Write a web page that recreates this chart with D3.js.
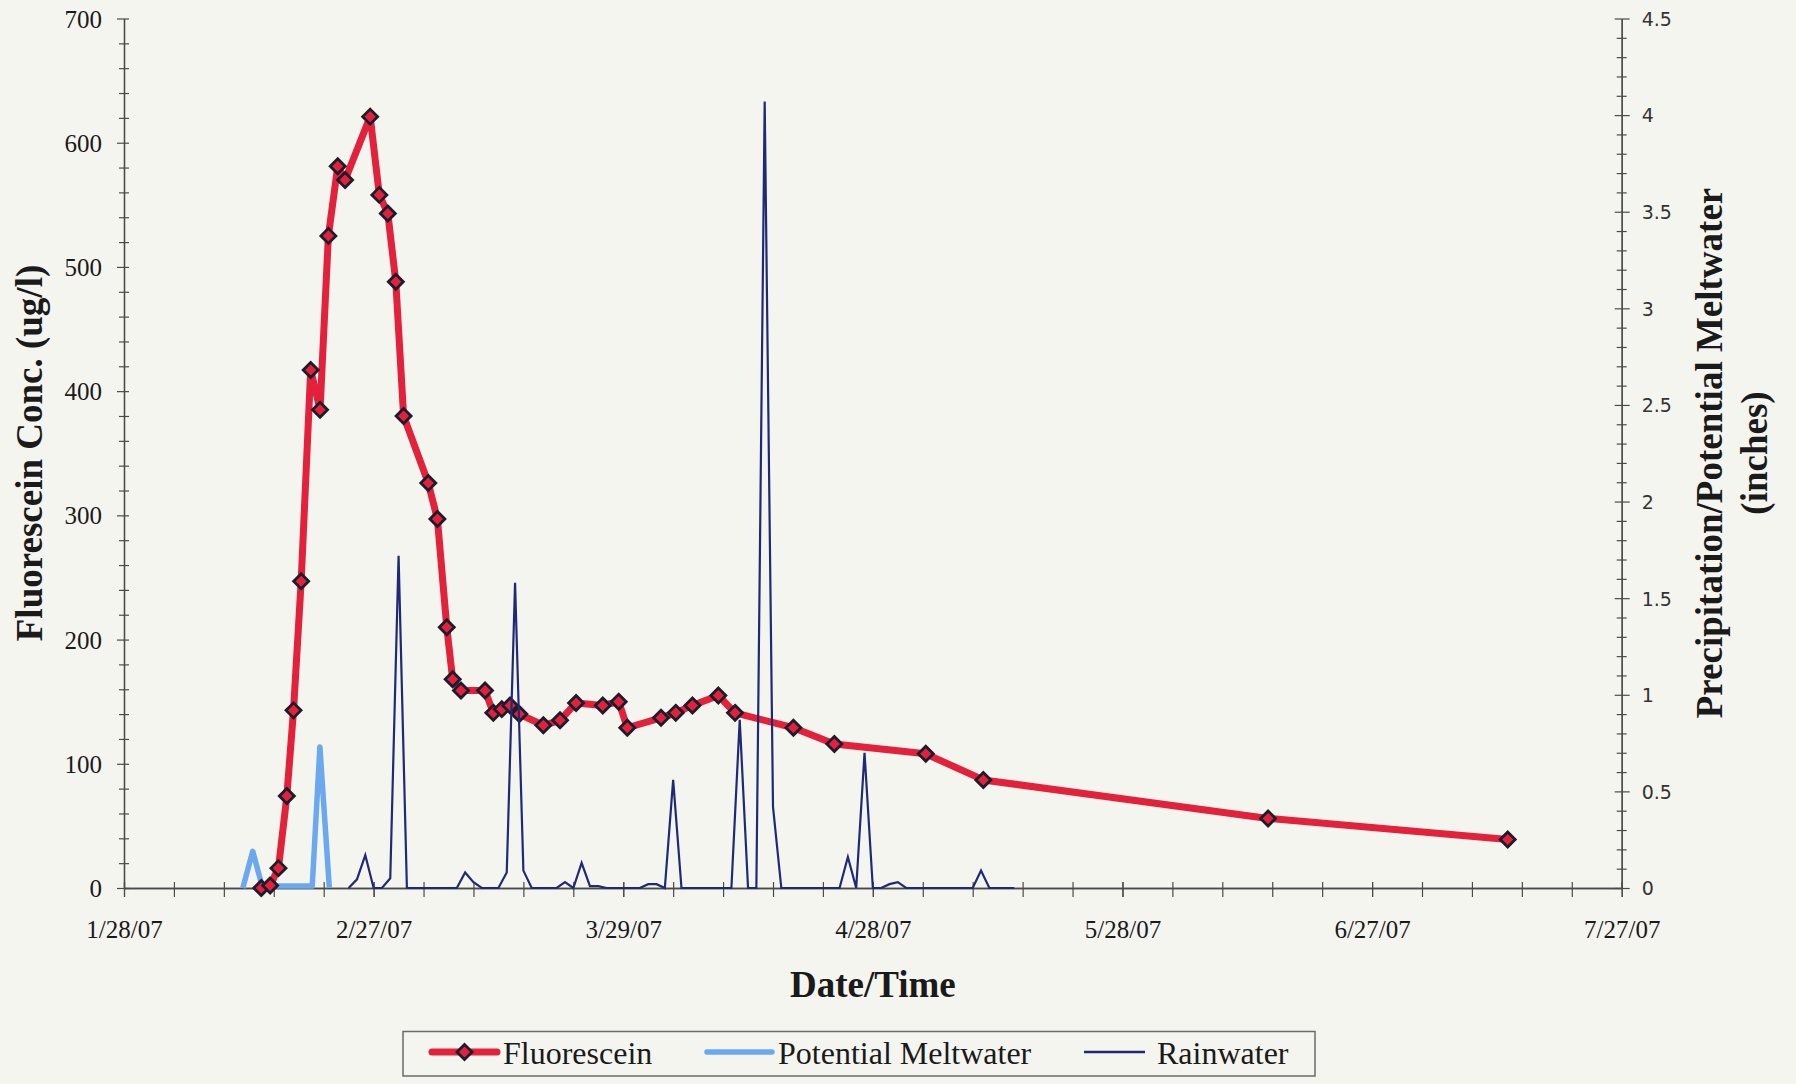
<!DOCTYPE html>
<html><head><meta charset="utf-8">
<script src="https://cdn.jsdelivr.net/npm/d3@7"></script>
<style>html,body{margin:0;padding:0;background:#F5F5F0;} svg{display:block;}</style>
</head><body>
<svg id="chart" width="1796" height="1084"></svg>
<script>
// ---------- data ----------
const fluorDates = ["2/13/07 12:00","2/14/07 13:30","2/15/07 13:30","2/16/07 13:40","2/17/07 09:00","2/18/07 07:00","2/19/07 10:30","2/20/07 13:30","2/21/07 13:30","2/22/07 16:30","2/23/07 13:40","2/26/07 14:00","2/27/07 16:30","2/28/07 17:00","3/1/07 16:00","3/2/07 14:30","3/5/07 13:40","3/6/07 16:00","3/7/07 19:00","3/8/07 12:00","3/9/07 12:00","3/12/07 09:20","3/13/07 09:20","3/14/07 09:40","3/15/07 09:40","3/16/07 12:15","3/19/07 09:40","3/21/07 09:40","3/23/07 08:00","3/26/07 13:00","3/28/07 11:00","3/29/07 11:45","4/2/07 13:00","4/4/07 07:30","4/6/07 07:40","4/9/07 10:20","4/11/07 10:30","4/18/07 10:50","4/23/07 09:00","5/4/07 08:40","5/11/07 06:40","6/14/07 12:00","7/13/07 07:10"];
const fluorValues = [0,2,16,74,143,247,417,385,525,581,570,621,558,543,488,380,326,297,210,168,159,159,141,144,147,140,131,135,149,147,150,129,137,141,147,155,141,129,116,108,87,56,39];

const meltDates = ["2/11/07 06:40","2/12/07 11:20","2/13/07 14:20","2/19/07 15:00","2/20/07 13:00","2/21/07 16:20"];
const meltValues = [0,0.19,0.01,0.01,0.73,0];

const rainDates = ["2/24/07 00:00","2/25/07 00:00","2/26/07 00:00","2/27/07 00:00","2/28/07 00:00","3/1/07 00:00","3/2/07 00:00","3/3/07 00:00",
  "3/9/07 00:00","3/10/07 00:00","3/11/07 00:00","3/12/07 00:00",
  "3/14/07 00:00","3/15/07 00:00","3/16/07 00:00","3/17/07 00:00","3/18/07 00:00",
  "3/21/07 00:00","3/22/07 00:00","3/23/07 00:00","3/24/07 00:00","3/25/07 00:00","3/26/07 00:00","3/27/07 00:00",
  "3/31/07 00:00","4/1/07 00:00","4/2/07 00:00","4/3/07 00:00","4/4/07 00:00","4/5/07 00:00",
  "4/11/07 00:00","4/12/07 00:00","4/13/07 00:00","4/14/07 00:00","4/15/07 00:00","4/16/07 00:00","4/17/07 00:00",
  "4/24/07 00:00","4/25/07 00:00","4/26/07 00:00","4/27/07 00:00","4/28/07 00:00","4/29/07 00:00","4/30/07 00:00","5/1/07 00:00","5/2/07 00:00",
  "5/10/07 00:00","5/11/07 00:00","5/12/07 00:00","5/15/07 00:00"];
const rainValues = [0,0.045,0.17,0,0,0.05,1.72,0,
  0,0.08,0.03,0,
  0,0.08,1.58,0.09,0,
  0,0.03,0,0.13,0.01,0.01,0,
  0,0.02,0.02,0,0.56,0,
  0,0.87,0,0,4.07,0.42,0,
  0,0.16,0,0.70,0,0,0.02,0.03,0,
  0,0.09,0,0];

const xTickLabels = ["1/28/07","2/27/07","3/29/07","4/28/07","5/28/07","6/27/07","7/27/07"];
const leftTicks = [0,100,200,300,400,500,600,700];
const rightTicks = [0,0.5,1,1.5,2,2.5,3,3.5,4,4.5];
const rightTickLabels = ["0","0.5","1","1.5","2","2.5","3","3.5","4","4.5"];
const seriesNames = ["Fluorescein","Potential Meltwater","Rainwater"];
const xTitle = "Date/Time";
const yLeftTitle = "Fluorescein Conc. (ug/l)";
const yRightTitle = ["Precipitation/Potential Meltwater","(inches)"];

// ---------- setup ----------
const parse = d3.utcParse("%m/%d/%y %H:%M");
const parseDay = d3.utcParse("%m/%d/%y");
const fluor = fluorDates.map((d,i)=>({date:parse(d), v:fluorValues[i]}));
const melt = meltDates.map((d,i)=>({date:parse(d), v:meltValues[i]}));
const rain = rainDates.map((d,i)=>({date:parse(d), v:rainValues[i]}));
const majorDates = xTickLabels.map(parseDay);

const RED = "#E3213B", BLUE = "#6BA8EE", NAVY = "#1E2A78", AXIS = "#4a4a4a", TXT = "#1a1a1a";
const SERIF = "'Liberation Serif','Times New Roman',serif";

const L = 124, R = 1621.7, T = 18.5, B = 888;
const x = d3.scaleUtc().domain([majorDates[0], majorDates[majorDates.length-1]]).range([L, R]);
const yL = d3.scaleLinear().domain([0,700]).range([B, T]);
const yR = d3.scaleLinear().domain([0,4.5]).range([B, T]);

const svg = d3.select("#chart");
svg.append("rect").attr("width",1796).attr("height",1084).attr("fill","#F5F5F0");

// ---------- axes ----------
const minorDates = d3.range(0, 181, 6).map(d => d3.utcDay.offset(majorDates[0], d));
const fmt = d3.utcFormat("%-m/%-d/%y");

function styleAxis(g){
  g.select(".domain").attr("stroke", AXIS).attr("stroke-width", 1.3);
  g.selectAll(".tick line").attr("stroke", AXIS).attr("stroke-width", 1.2);
}

// x minor
const gxMinor = svg.append("g").attr("transform", `translate(0,${B})`)
  .call(d3.axisBottom(x).tickValues(minorDates).tickSize(9).tickSizeOuter(0).tickFormat(""));
gxMinor.selectAll(".tick line").attr("y1", -6);
styleAxis(gxMinor);
// x major with labels
const gx = svg.append("g").attr("transform", `translate(0,${B})`)
  .call(d3.axisBottom(x).tickValues(majorDates).tickSize(9).tickSizeOuter(0).tickFormat(fmt));
gx.selectAll(".tick line").attr("y1", -6);
gx.selectAll(".tick text").attr("y", 49.5).attr("dy", null)
  .attr("font-family", SERIF).attr("font-size", 25).attr("fill", TXT);
styleAxis(gx);

// left minor
const leftMinor = d3.range(0, 701, 20).filter(v => v % 100 !== 0);
const gyLm = svg.append("g").attr("transform", `translate(${L},0)`)
  .call(d3.axisLeft(yL).tickValues(leftMinor).tickSize(5).tickSizeOuter(0).tickFormat(""));
gyLm.selectAll(".tick line").attr("x1", 5);
styleAxis(gyLm);
const gyL = svg.append("g").attr("transform", `translate(${L},0)`)
  .call(d3.axisLeft(yL).tickValues(leftTicks).tickSize(7).tickSizeOuter(0).tickFormat(d3.format("d")));
gyL.selectAll(".tick line").attr("x1", 5);
gyL.selectAll(".tick text").attr("x", -22).attr("dy", "0.34em")
  .attr("font-family", SERIF).attr("font-size", 25).attr("fill", TXT);
styleAxis(gyL);

// right minor
const rightMinor = d3.range(0, 46, 1).filter(v => v % 5 !== 0).map(v => v / 10);
const gyRm = svg.append("g").attr("transform", `translate(${R},0)`)
  .call(d3.axisRight(yR).tickValues(rightMinor).tickSize(5).tickSizeOuter(0).tickFormat(""));
gyRm.selectAll(".tick line").attr("x1", -5);
styleAxis(gyRm);
const gyR = svg.append("g").attr("transform", `translate(${R},0)`)
  .call(d3.axisRight(yR).tickValues(rightTicks).tickSize(8).tickSizeOuter(0)
    .tickFormat((d,i) => rightTickLabels[i]));
gyR.selectAll(".tick line").attr("x1", -7);
gyR.selectAll(".tick text").attr("x", 20).attr("dy", "0.36em")
  .attr("font-family", "'DejaVu Sans',Verdana,sans-serif").attr("font-size", 19).attr("fill", "#333");
styleAxis(gyR);

// ---------- titles ----------
svg.append("text").attr("x", (L+R)/2).attr("y", 997).attr("text-anchor","middle")
  .attr("font-family", SERIF).attr("font-weight","bold").attr("font-size", 37).attr("fill", TXT)
  .text(xTitle);
svg.append("text").attr("transform", "translate(42,453) rotate(-90)").attr("text-anchor","middle")
  .attr("font-family", SERIF).attr("font-weight","bold").attr("font-size", 37).attr("fill", TXT)
  .text(yLeftTitle);
svg.append("text").attr("transform", "translate(1722,453) rotate(-90)").attr("text-anchor","middle")
  .attr("font-family", SERIF).attr("font-weight","bold").attr("font-size", 37).attr("fill", TXT)
  .text(yRightTitle[0]);
svg.append("text").attr("transform", "translate(1767,453) rotate(-90)").attr("text-anchor","middle")
  .attr("font-family", SERIF).attr("font-weight","bold").attr("font-size", 37).attr("fill", TXT)
  .text(yRightTitle[1]);

// ---------- series ----------
const diamond = r => `M0,${-r}L${r},0L0,${r}L${-r},0Z`;

svg.append("path").datum(melt)
  .attr("d", d3.line().x(d=>x(d.date)).y(d=>yR(d.v)))
  .attr("fill","none").attr("stroke", BLUE).attr("stroke-width", 5.5).attr("stroke-linejoin","round");

svg.append("path").datum(fluor)
  .attr("d", d3.line().x(d=>x(d.date)).y(d=>yL(d.v)))
  .attr("fill","none").attr("stroke", RED).attr("stroke-width", 7).attr("stroke-linejoin","round");
svg.append("g").selectAll("path").data(fluor).join("path")
  .attr("transform", d => `translate(${x(d.date)},${yL(d.v)})`)
  .attr("d", diamond(7.5))
  .attr("fill", RED).attr("stroke", "#1c1c2c").attr("stroke-width", 2.8).attr("stroke-linejoin","miter");

svg.append("path").datum(rain)
  .attr("d", d3.line().x(d=>x(d.date)).y(d=>yR(d.v)))
  .attr("fill","none").attr("stroke", NAVY).attr("stroke-width", 2.2).attr("stroke-linejoin","miter");

// ---------- legend ----------
const lg = svg.append("g");
lg.append("rect").attr("x", 403).attr("y", 1031.5).attr("width", 912).attr("height", 44.5)
  .attr("fill","none").attr("stroke","#6a6a6a").attr("stroke-width",1.5);
const items = [
  {name: seriesNames[0], x1: 432, x2: 497, tx: 503, color: RED, w: 7, marker: true},
  {name: seriesNames[1], x1: 707, x2: 772, tx: 778, color: BLUE, w: 5.5, marker: false},
  {name: seriesNames[2], x1: 1084, x2: 1145, tx: 1157, color: NAVY, w: 2.6, marker: false}
];
const ly = 1052;
items.forEach(it => {
  lg.append("line").attr("x1", it.x1).attr("x2", it.x2).attr("y1", ly).attr("y2", ly)
    .attr("stroke", it.color).attr("stroke-width", it.w).attr("stroke-linecap", it.marker || it.w > 4 ? "round" : "butt");
  if (it.marker) {
    lg.append("path").attr("transform", `translate(${(it.x1+it.x2)/2},${ly})`).attr("d", diamond(7.5))
      .attr("fill", RED).attr("stroke", "#1c1c2c").attr("stroke-width", 2.8);
  }
  lg.append("text").attr("x", it.tx).attr("y", 1064).attr("font-family", SERIF)
    .attr("font-size", 32).attr("fill", TXT).text(it.name);
});
</script>
</body></html>
